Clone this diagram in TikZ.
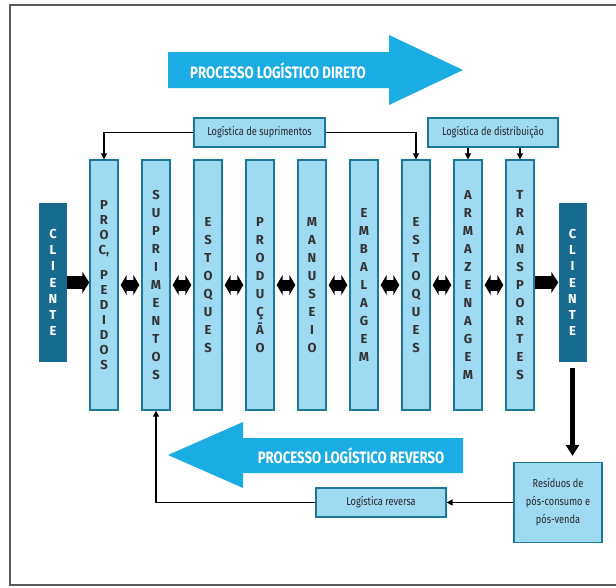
\documentclass[tikz,border=0pt]{standalone}
\usepackage{fontspec}
\setmainfont{Fira Sans}
\newfontfamily\condfont{Fira Sans}[FakeStretch=0.8]
\usepackage{xcolor}
\usepackage{tikz}
\usetikzlibrary{positioning,calc,arrows.meta}

\definecolor{colbox}{HTML}{9FDAF3}
\definecolor{colline}{HTML}{1C7896}
\definecolor{colcli}{HTML}{176B8E}
\definecolor{colbig}{HTML}{1AACE2}

\tikzset{
  col/.style={draw=colline, fill=colbox, line width=1.3pt, minimum width=28pt, minimum height=250pt,
    inner sep=0pt, align=center, text=black!80},
  cli/.style={fill=colcli, minimum width=28pt, minimum height=159pt, inner sep=0pt, align=center,
    text=white, font=\fontsize{13}{16.2}\selectfont\bfseries},
  lbox/.style={draw=colline, fill=colbox, line width=1.3pt, minimum height=29pt, inner sep=2pt,
    align=center, text=black!85, font=\condfont\fontsize{11.5}{18}\selectfont},
  bigtxt/.style={text=white, font=\condfont\fontsize{16.5}{18}\selectfont\bfseries},
  thin/.style={line width=1.6pt, -{Triangle[length=6pt,width=6pt]}},
  fat/.style={line width=13pt, -{Triangle[length=7pt,width=21pt]}},
  dbl/.style={line width=11pt, {Triangle[length=6pt,width=20pt]}-{Triangle[length=6pt,width=20pt]},
    shorten <=2pt, shorten >=2pt}
}

\begin{document}
\begin{tikzpicture}[x=1pt,y=-1pt]
    \useasboundingbox (0,0) rectangle (616,587);
    \draw[line width=2pt, black!65] (616,5) -- (10,5) -- (10,585) -- (616,585);

    % big arrows
    \fill[colbig] (168,52) -- (389,52) -- (389,35) -- (463,70) -- (389,105) -- (389,88) -- (168,88) -- cycle;
    \node[bigtxt] (direto) at (278,71) {PROCESSO LOGÍSTICO DIRETO};
    \fill[colbig] (463,438) -- (243,438) -- (243,422) -- (168,455) -- (243,488) -- (243,473) -- (463,473) -- cycle;
    \node[bigtxt] (reverso) at (351,456) {PROCESSO LOGÍSTICO REVERSO};

    % columns
    \foreach \i/\nm/\sk/\txt in {0/proc/15/{P\\R\\O\\C,\\[10pt]P\\E\\D\\I\\D\\O\\S},
        1/supr/18/{S\\U\\P\\R\\I\\M\\E\\N\\T\\O\\S}, 2/estq/18/{E\\S\\T\\O\\Q\\U\\E\\S},
        3/prod/18/{P\\R\\O\\D\\U\\Ç\\Ã\\O}, 4/manu/18/{M\\A\\N\\U\\S\\E\\I\\O},
        5/emba/18/{E\\M\\B\\A\\L\\A\\G\\E\\M}, 6/estd/18/{E\\S\\T\\O\\Q\\U\\E\\S},
        7/arma/18/{A\\R\\M\\A\\Z\\E\\N\\A\\G\\E\\M}, 8/tran/18/{T\\R\\A\\N\\S\\P\\O\\R\\T\\E\\S}}
        \node[col, font=\fontsize{13}{\sk}\selectfont\bfseries] (\nm) at (104+52*\i,285) {\txt};

    \node[cli] (cliA) at (53,282.5) {C\\L\\I\\E\\N\\T\\E};
    \node[cli] (cliB) at (572.5,282.5) {C\\L\\I\\E\\N\\T\\E};

    \node[lbox, minimum width=131pt] (logsup) at (259.5,132.5) {Logística de suprimentos};
    \node[lbox, minimum width=130pt] (logdist) at (493,132.5) {Logística de distribuição};
    \node[lbox, minimum width=130pt] (logrev) at (381,502.5) {Logística reversa};
    \node[lbox, minimum width=88pt, minimum height=80pt] (residuos) at (558,502.5)
        {Resíduos de\\pós-consumo e\\pós-venda};

    % flow arrows
    \draw[fat] (cliA.east) -- (proc.west |- cliA.east);
    \draw[fat] (tran.east |- cliB.west) -- (cliB.west);
    \foreach \a/\b in {proc/supr, supr/estq, estq/prod, prod/manu, manu/emba, emba/estd, estd/arma, arma/tran}
        \draw[dbl] (\a) -- (\b);
    \draw[line width=5pt, -{Triangle[length=11pt,width=13pt]}, shorten <=6pt, shorten >=6pt]
        (cliB.south) -- (cliB.south |- residuos.north);

    \draw[thin] (logsup.west) -| (proc.north);
    \draw[thin] (logsup.east) -| (estd.north);
    \draw[thin] (arma.north |- logdist.south) -- (arma.north);
    \draw[thin] (tran.north |- logdist.south) -- (tran.north);
    \draw[thin] (residuos.west) -- (logrev.east);
    \draw[thin] (logrev.west) -| (supr.south);
\end{tikzpicture}
\end{document}
